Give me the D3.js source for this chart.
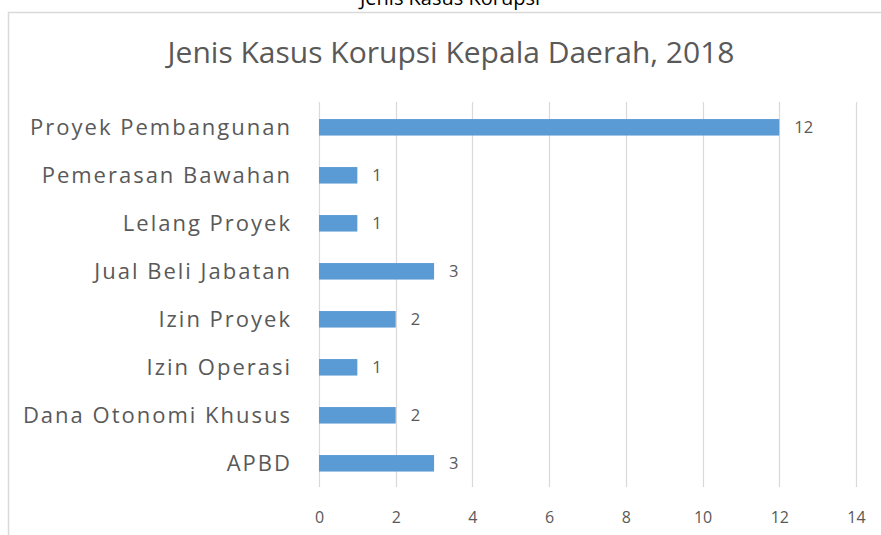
<!DOCTYPE html>
<html><head><meta charset="utf-8">
<script src="https://cdn.jsdelivr.net/npm/d3@7"></script>
<style>
html,body{margin:0;padding:0;background:#fff;overflow:hidden}
svg{display:block}
text{font-family:"Open Sans",sans-serif}
</style></head>
<body>
<svg id="c" width="881" height="535"></svg>
<script>
const categories = ["Proyek Pembangunan","Pemerasan Bawahan","Lelang Proyek","Jual Beli Jabatan","Izin Proyek","Izin Operasi","Dana Otonomi Khusus","APBD"];
const values = [12,1,1,3,2,1,2,3];
const xTicks = [0,2,4,6,8,10,12,14];
const pageTitle = "Jenis Kasus Korupsi";
const chartTitle = "Jenis Kasus Korupsi Kepala Daerah, 2018";

const svg = d3.select("#c");
const gray = "#595959";

svg.append("text").attr("x",450).attr("y",5).attr("text-anchor","middle")
  .attr("font-size",20).attr("fill","#000").text(pageTitle);

svg.append("rect").attr("x",8.5).attr("y",12.5).attr("width",880).attr("height",540)
  .attr("fill","#fff").attr("stroke","#d9d9d9").attr("stroke-width",1.5);

svg.append("text").attr("x",451).attr("y",63).attr("text-anchor","middle")
  .attr("font-size",30).attr("fill",gray).text(chartTitle);

const x = d3.scaleLinear().domain([0,14]).range([319,856]);
const y = d3.scaleBand().domain(categories).range([103.3,487.3]);

const grid = svg.append("g");
grid.selectAll("line").data(xTicks).join("line")
  .attr("x1",d=>Math.round(x(d))+0.5).attr("x2",d=>Math.round(x(d))+0.5)
  .attr("y1",102).attr("y2",487).attr("stroke","#d9d9d9").attr("stroke-width",1.2);

const xAxis = d3.axisBottom(x).tickValues(xTicks).tickSize(0).tickPadding(0);
const ga = svg.append("g").attr("transform","translate(0,523)").call(xAxis);
ga.select(".domain").remove();
ga.selectAll("text").attr("font-size",16).attr("fill",gray).attr("dy",0)
  .attr("font-family","'Open Sans',sans-serif");

const yAxis = d3.axisLeft(y).tickSize(0).tickPadding(0);
const gy = svg.append("g").attr("transform","translate(292,0)").call(yAxis);
gy.select(".domain").remove();
gy.selectAll("text").attr("font-size",22).attr("fill",gray).attr("letter-spacing",2)
  .attr("dy","0.35em").attr("font-family","'Open Sans',sans-serif");

const bh = 16.5;
svg.append("g").selectAll("rect").data(values).join("rect")
  .attr("x",x(0)).attr("y",(d,i)=>y(categories[i])+y.bandwidth()/2-bh/2)
  .attr("width",d=>x(d)-x(0)).attr("height",bh).attr("fill","#5b9bd5");

svg.append("g").selectAll("text").data(values).join("text")
  .attr("x",d=>x(d)+15).attr("y",(d,i)=>y(categories[i])+y.bandwidth()/2)
  .attr("dy","0.35em").attr("font-size",16.5).attr("fill",gray).text(d=>d);
</script>
</body></html>
